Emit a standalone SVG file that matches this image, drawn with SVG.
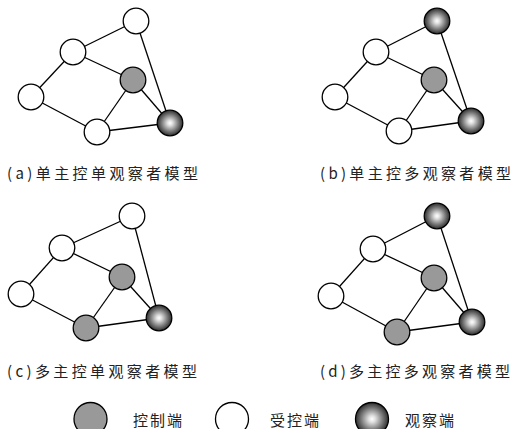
<svg xmlns="http://www.w3.org/2000/svg" width="513" height="429" viewBox="0 0 513 429">
  <defs>
    <radialGradient id="obsFill" cx="0.5" cy="0.5" r="0.5">
      <stop offset="0" stop-color="#ffffff"/>
      <stop offset="0.2" stop-color="#e0e0e0"/>
      <stop offset="0.65" stop-color="#7a7a7a"/>
      <stop offset="1" stop-color="#2e2e2e"/>
    </radialGradient>
    <style>
      .edge { stroke: #000; stroke-width: 1.3; fill: none; }
      .node { stroke: #000; stroke-width: 1.3; }
      .ctrl { fill: #999999; }
      .slave { fill: #ffffff; }
      .obs { fill: url(#obsFill); }
      .cap { font-family: "Noto Sans CJK SC", "Liberation Serif", serif; font-size: 15px; fill: #222; }
      .leg { font-family: "Noto Sans CJK SC", sans-serif; font-size: 15px; fill: #222; }
    </style>
  </defs>

  <!-- connectors -->
  <g id="connectors">
    <!-- (a) -->
    <line class="edge" x1="136" y1="21" x2="73" y2="52"/>
    <line class="edge" x1="136" y1="21" x2="170" y2="123"/>
    <line class="edge" x1="73" y1="52" x2="31" y2="97"/>
    <line class="edge" x1="73" y1="52" x2="133" y2="80"/>
    <line class="edge" x1="31" y1="97" x2="97" y2="132"/>
    <line class="edge" x1="133" y1="80" x2="97" y2="132"/>
    <line class="edge" x1="133" y1="80" x2="170" y2="123"/>
    <line class="edge" x1="97" y1="132" x2="170" y2="123"/>
    <!-- (b) -->
    <line class="edge" x1="437" y1="21" x2="376" y2="52"/>
    <line class="edge" x1="437" y1="21" x2="471" y2="121"/>
    <line class="edge" x1="376" y1="52" x2="335" y2="97"/>
    <line class="edge" x1="376" y1="52" x2="434" y2="80"/>
    <line class="edge" x1="335" y1="97" x2="399" y2="131"/>
    <line class="edge" x1="434" y1="80" x2="399" y2="131"/>
    <line class="edge" x1="434" y1="80" x2="471" y2="121"/>
    <line class="edge" x1="399" y1="131" x2="471" y2="121"/>
    <!-- (c) -->
    <line class="edge" x1="132" y1="216" x2="62" y2="248"/>
    <line class="edge" x1="132" y1="216" x2="159" y2="318"/>
    <line class="edge" x1="62" y1="248" x2="21" y2="294"/>
    <line class="edge" x1="62" y1="248" x2="122" y2="277"/>
    <line class="edge" x1="21" y1="294" x2="86" y2="328"/>
    <line class="edge" x1="122" y1="277" x2="86" y2="328"/>
    <line class="edge" x1="122" y1="277" x2="159" y2="318"/>
    <line class="edge" x1="86" y1="328" x2="159" y2="318"/>
    <!-- (d) -->
    <line class="edge" x1="437" y1="216" x2="373" y2="249"/>
    <line class="edge" x1="437" y1="216" x2="472" y2="322"/>
    <line class="edge" x1="373" y1="249" x2="331" y2="296"/>
    <line class="edge" x1="373" y1="249" x2="434" y2="278"/>
    <line class="edge" x1="331" y1="296" x2="397" y2="332"/>
    <line class="edge" x1="434" y1="278" x2="397" y2="332"/>
    <line class="edge" x1="434" y1="278" x2="472" y2="322"/>
    <line class="edge" x1="397" y1="332" x2="472" y2="322"/>
  </g>

  <!-- (a) single controller, single observer -->
  <g id="a-top"><circle class="node slave" cx="136" cy="21" r="12.8"/></g>
  <g id="a-upper"><circle class="node slave" cx="73" cy="52" r="12.8"/></g>
  <g id="a-left"><circle class="node slave" cx="31" cy="97" r="12.8"/></g>
  <g id="a-bottom"><circle class="node slave" cx="97" cy="132" r="12.8"/></g>
  <g id="a-ctrl"><circle class="node ctrl" cx="133" cy="80" r="12.8"/></g>
  <g id="a-obs"><circle class="node obs" cx="170" cy="123" r="12.8"/></g>

  <!-- (b) single controller, multiple observers -->
  <g id="b-top"><circle class="node obs" cx="437" cy="21" r="12.8"/></g>
  <g id="b-upper"><circle class="node slave" cx="376" cy="52" r="12.8"/></g>
  <g id="b-left"><circle class="node slave" cx="335" cy="97" r="12.8"/></g>
  <g id="b-bottom"><circle class="node slave" cx="399" cy="131" r="12.8"/></g>
  <g id="b-ctrl"><circle class="node ctrl" cx="434" cy="80" r="12.8"/></g>
  <g id="b-obs"><circle class="node obs" cx="471" cy="121" r="12.8"/></g>

  <!-- (c) multiple controllers, single observer -->
  <g id="c-top"><circle class="node slave" cx="132" cy="216" r="12.8"/></g>
  <g id="c-upper"><circle class="node slave" cx="62" cy="248" r="12.8"/></g>
  <g id="c-left"><circle class="node slave" cx="21" cy="294" r="12.8"/></g>
  <g id="c-bottom"><circle class="node ctrl" cx="86" cy="328" r="12.8"/></g>
  <g id="c-ctrl"><circle class="node ctrl" cx="122" cy="277" r="12.8"/></g>
  <g id="c-obs"><circle class="node obs" cx="159" cy="318" r="12.8"/></g>

  <!-- (d) multiple controllers, multiple observers -->
  <g id="d-top"><circle class="node obs" cx="437" cy="216" r="12.8"/></g>
  <g id="d-upper"><circle class="node slave" cx="373" cy="249" r="12.8"/></g>
  <g id="d-left"><circle class="node slave" cx="331" cy="296" r="12.8"/></g>
  <g id="d-bottom"><circle class="node ctrl" cx="397" cy="332" r="12.8"/></g>
  <g id="d-ctrl"><circle class="node ctrl" cx="434" cy="278" r="12.8"/></g>
  <g id="d-obs"><circle class="node obs" cx="472" cy="322" r="12.8"/></g>

  <!-- captions -->
  <g id="captions">
    <text class="cap" x="7" y="179" textLength="191" lengthAdjust="spacing">(a)单主控单观察者模型</text>
    <text class="cap" x="320" y="179" textLength="191" lengthAdjust="spacing">(b)单主控多观察者模型</text>
    <text class="cap" x="7" y="377" textLength="190" lengthAdjust="spacing">(c)多主控单观察者模型</text>
    <text class="cap" x="320" y="377" textLength="190" lengthAdjust="spacing">(d)多主控多观察者模型</text>
  </g>

  <!-- legend -->
  <g id="legend">
    <g id="legend-ctrl">
      <circle class="node ctrl" cx="90.5" cy="419" r="16.5"/>
      <text class="leg" x="133" y="426" textLength="49" lengthAdjust="spacing">控制端</text>
    </g>
    <g id="legend-slave">
      <circle class="node slave" cx="232" cy="419" r="16.5"/>
      <text class="leg" x="270" y="426" textLength="49" lengthAdjust="spacing">受控端</text>
    </g>
    <g id="legend-obs">
      <circle class="node obs" cx="372" cy="419" r="16.5"/>
      <text class="leg" x="405" y="426" textLength="49" lengthAdjust="spacing">观察端</text>
    </g>
  </g>
</svg>
